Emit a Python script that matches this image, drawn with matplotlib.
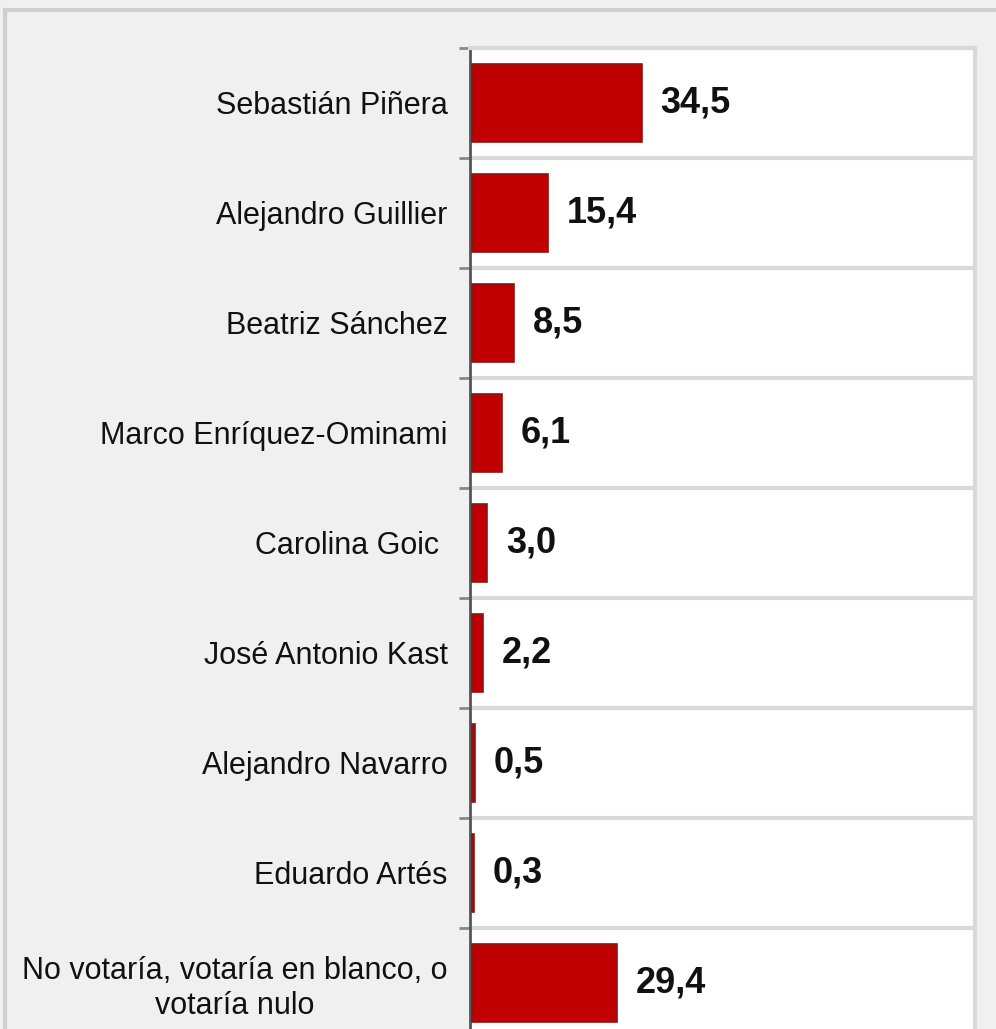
import matplotlib.pyplot as plt
from matplotlib.lines import Line2D

# poll results (%), top to bottom
candidates = [
    "Sebastián Piñera",
    "Alejandro Guillier",
    "Beatriz Sánchez",
    "Marco Enríquez-Ominami",
    "Carolina Goic ",
    "José Antonio Kast",
    "Alejandro Navarro",
    "Eduardo Artés",
    "No votaría, votaría en blanco, o\nvotaría nulo",
]
values = [34.5, 15.4, 8.5, 6.1, 3.0, 2.2, 0.5, 0.3, 29.4]
value_labels = ["34,5", "15,4", "8,5", "6,1", "3,0", "2,2", "0,5", "0,3", "29,4"]

plt.rcParams["font.family"] = ["Liberation Sans", "DejaVu Sans"]

fig = plt.figure(figsize=(9.96, 10.29), dpi=100)
fig.patch.set_facecolor("#f0f0f0")

# outer frame lines (top and left)
fig.add_artist(Line2D([5 / 996, 1], [1 - 10 / 1029] * 2, transform=fig.transFigure,
                      color="#cfcfcf", linewidth=3))
fig.add_artist(Line2D([5 / 996] * 2, [0, 1 - 10 / 1029], transform=fig.transFigure,
                      color="#cfcfcf", linewidth=3))

ax = fig.add_axes([470 / 996, -9 / 1029, 505 / 996, 990 / 1029])
ax.set_facecolor("white")

y = list(range(len(candidates)))
ax.barh(y, values, height=0.71, color="#c00000", edgecolor="#8b1515",
        linewidth=1.2, zorder=3)

for yi, v, lab in zip(y, values, value_labels):
    ax.annotate(lab, (v, yi), xytext=(13.5, 0), textcoords="offset points",
                ha="left", va="center", fontsize=26, fontweight="bold", color="#111111")

# small gap between the axis line and the bar starts
ax.set_xlim(-0.5, 102.5)
ax.set_ylim(len(candidates) - 0.5, -0.5)

ax.set_yticks(y)
ax.set_yticklabels(candidates, fontsize=22, color="#111111", multialignment="center")
ax.tick_params(axis="y", which="major", length=0, pad=16)
ax.set_yticks([i - 0.5 for i in range(len(candidates) + 1)], minor=True)
ax.tick_params(axis="y", which="minor", length=8, width=2, color="#888888")
ax.grid(axis="y", which="minor", color="#d9d9d9", linewidth=3, zorder=0)
ax.set_xticks([])

for side in ["top", "right", "bottom"]:
    ax.spines[side].set_color("#d9d9d9")
    ax.spines[side].set_linewidth(3)
ax.spines["left"].set_color("#555555")
ax.spines["left"].set_linewidth(2)

plt.savefig("out.png", dpi=100, facecolor=fig.get_facecolor())
